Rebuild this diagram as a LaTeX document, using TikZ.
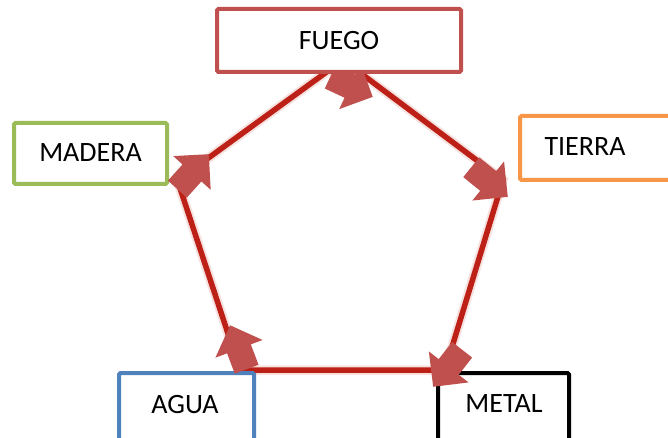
\documentclass[tikz,border=0pt]{standalone}
\usepackage{fontspec}
\setmainfont{Carlito}
\usetikzlibrary{shapes.arrows}
\definecolor{firered}{RGB}{192,80,77}
\definecolor{woodgreen}{RGB}{155,187,89}
\definecolor{earthorange}{RGB}{247,150,70}
\definecolor{waterblue}{RGB}{79,129,189}
\definecolor{cyclered}{RGB}{188,32,22}
\begin{document}
\begin{tikzpicture}[x=1pt,y=-1pt,
  elembox/.style={draw, line width=4pt, fill=white, rounded corners=1.5pt, inner sep=0pt},
  elemtext/.style={font=\fontsize{28}{32}\selectfont, inner sep=0pt, text=black},
  cycleline/.style={cyclered, line width=5.5pt},
  cyclehalo/.style={cyclered!30, line width=9.5pt, opacity=0.45},
  blockarrow/.style={single arrow, fill=firered, draw=none, inner sep=0pt,
    text height=12.5pt, text depth=12.5pt, text width=0pt,
    minimum height=47pt, minimum width=50pt,
    single arrow head extend=12.5pt, anchor=tip},
]
\useasboundingbox (0,0) rectangle (668,438);

% corners of the cycle
\coordinate (vTop)   at (343,60);
\coordinate (vRight) at (503,180);
\coordinate (vMetal) at (445,370);
\coordinate (vAgua)  at (240,370);
\coordinate (vLeft)  at (177.5,180.5);

% the cycle itself
\draw[cyclehalo] (vLeft) -- (vTop) -- (vRight) -- (vMetal) -- (vAgua) -- cycle;
\draw[cycleline] (vLeft) -- (vTop) -- (vRight) -- (vMetal) -- (vAgua) -- cycle;

% element boxes
\node[elembox, draw=woodgreen, minimum width=153pt, minimum height=61pt] (maderaBox) at (90.5,153.5) {};
\node[elembox, draw=earthorange, minimum width=180pt, minimum height=64pt] (tierraBox) at (610,148) {};
\node[elembox, draw=waterblue, minimum width=135pt, minimum height=97pt] (aguaBox) at (186.5,421.5) {};
\node[elembox, draw=black, minimum width=131pt, minimum height=97pt] (metalBox) at (503.5,421.5) {};

% block arrows at the corners
\node[blockarrow, rotate=-25]   (aTop) at (373,97)  {};
\node[blockarrow, rotate=48]    (aMad) at (209,154) {};
\node[blockarrow, rotate=-39]   (aTie) at (508,197) {};
\node[blockarrow, rotate=110.6] (aAgu) at (230,325) {};
\node[blockarrow, rotate=232]   (aMet) at (433,387) {};

\node[elembox, draw=firered, minimum width=244pt, minimum height=63pt] (fuegoBox) at (339,40.5) {};

% labels
\node[elemtext] (fuego)  at (339,41)   {FUEGO};
\node[elemtext] (madera) at (90.5,153) {MADERA};
\node[elemtext] (tierra) at (585,147)  {TIERRA};
\node[elemtext] (agua)   at (185,405)  {AGUA};
\node[elemtext] (metal)  at (504,404)  {METAL};
\end{tikzpicture}
\end{document}
